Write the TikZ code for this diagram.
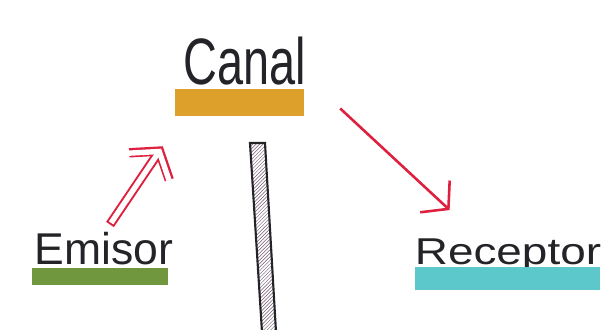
\documentclass[tikz,border=0pt]{standalone}
\usepackage{fontspec}
\setmainfont{Liberation Sans}
\usetikzlibrary{arrows.meta,patterns}

\definecolor{canalorange}{RGB}{221,160,42}
\definecolor{emisorgreen}{RGB}{112,150,62}
\definecolor{receptorcyan}{RGB}{92,200,204}
\definecolor{arrowred}{RGB}{222,32,62}
\definecolor{inkgray}{RGB}{35,35,40}
\definecolor{hatchgray}{RGB}{115,90,112}

\begin{document}
\begin{tikzpicture}[x=0.03cm, y=-0.03cm,
    word/.style={text=inkgray, anchor=base, inner sep=0pt},
    bar/.style={inner sep=0pt},
    hollowtip/.style={-{Straight Barb[length=0.55cm, width=1.45cm]}}]
    \useasboundingbox (0,0) rectangle (603,330);
    % the three parts and their marker bars
    \node[word, font=\fontsize{40}{48}\selectfont, yscale=1.4] (canal) at (245,84) {Canal};
    \node[bar, fill=canalorange, minimum width=3.87cm, minimum height=0.81cm] (canalbar) at (239.5,102.5) {};
    \node[word, font=\fontsize{38}{46}\selectfont] (emisor) at (104,264) {Emisor};
    \node[bar, fill=emisorgreen, minimum width=4.08cm, minimum height=0.51cm] (emisorbar) at (100,276.5) {};
    \node[word, font=\fontsize{29}{34}\selectfont, xscale=1.35, yscale=1.1] (receptor) at (508,264) {Receptor};
    \node[bar, fill=receptorcyan, minimum width=5.55cm, minimum height=0.69cm] (receptorbar) at (507.5,278.5) {};
    % hatched post
    \draw[inkgray, line width=1.8pt, pattern=north east lines, pattern color=hatchgray]
        (250,143) -- (265,143) -- (276,332) -- (262,332) -- cycle;
    % arrows
    \coordinate (emisorout) at ([shift={(6,-7)}]emisor.north);
    \coordinate (canalin) at ([shift={(-12,30)}]canalbar.south west);
    \draw[arrowred, line width=8pt, hollowtip] (emisorout) -- (canalin);
    \draw[white, line width=4.6pt, hollowtip, shorten <=1.7pt, shorten >=2.5pt] (emisorout) -- (canalin);
    \draw[arrowred, line width=2.2pt, -{Straight Barb[length=0.55cm, width=1.3cm]}]
        ([shift={(36,6)}]canalbar.east) -- ([shift={(35,-28)}]receptor.north west);
\end{tikzpicture}
\end{document}
